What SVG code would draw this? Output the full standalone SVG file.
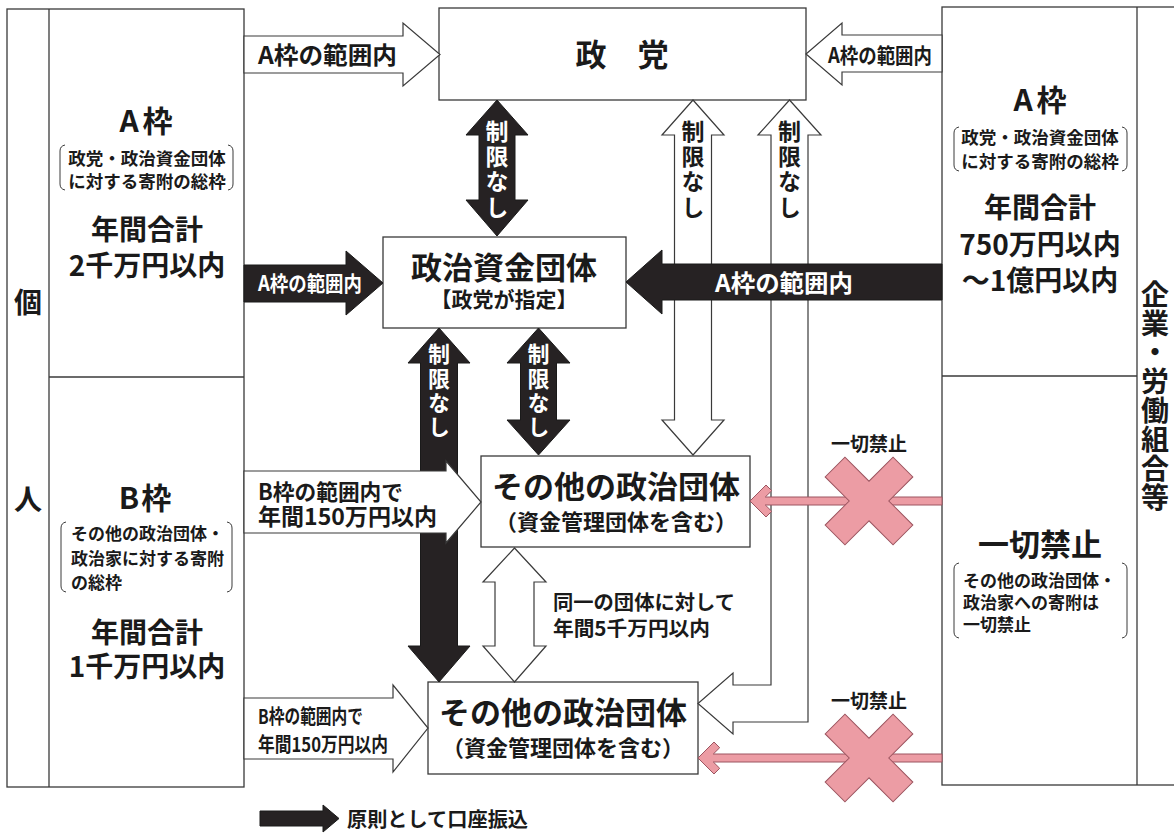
<svg xmlns="http://www.w3.org/2000/svg" width="1174" height="833" viewBox="0 0 1174 833">
<defs>
<style>
text{font-family:"Noto Sans CJK JP","Noto Sans CJK SC",sans-serif;fill:#1a1a1a}
.box{fill:#fff;stroke:#3a3a3a;stroke-width:1.3}
.ln{fill:none;stroke:#3a3a3a;stroke-width:1.3}
.br{fill:none;stroke:#3a3a3a;stroke-width:1}
.b{font-weight:bold}
.m{text-anchor:middle}
.v{writing-mode:vertical-rl}
.blk{fill:#262223;stroke:#1a1a1a;stroke-width:1}
.hol{fill:#fff;stroke:#3a3a3a;stroke-width:1.2}
.pk{fill:#ec9ca4;stroke:#9c5560;stroke-width:1}
.w{fill:#fff}
</style>
</defs>
<rect width="1174" height="833" fill="#fff"/>

<g id="kojin">
<rect class="box" x="7" y="9" width="237" height="778"/>
<line class="ln" x1="49" y1="9" x2="49" y2="787"/>
<line class="ln" x1="49" y1="377" x2="244" y2="377"/>
<text class="b m" x="28" y="313" font-size="28">個</text>
<text class="b m" x="28" y="510" font-size="28">人</text>
</g>

<g id="kojin-a">
<text class="b m" x="148" y="132" font-size="30" letter-spacing="4">A枠</text>
<path class="br" d="M65,145 Q60,146 60,151 L60,184 Q60,189 65,190"/>
<path class="br" d="M228,145 Q233,146 233,151 L233,184 Q233,189 228,190"/>
<text class="b m" font-size="17.5"><tspan x="147" y="165">政党・政治資金団体</tspan><tspan x="147" y="188">に対する寄附の総枠</tspan></text>
<text class="b m" font-size="28"><tspan x="147" y="240">年間合計</tspan><tspan x="147" y="276">2千万円以内</tspan></text>
</g>

<g id="kojin-b">
<text class="b m" x="146" y="509" font-size="30" letter-spacing="2">B枠</text>
<path class="br" d="M66,522 Q61,523 61,528 L61,586 Q61,591 66,592"/>
<path class="br" d="M227,522 Q232,523 232,528 L232,586 Q232,591 227,592"/>
<text class="b" font-size="17"><tspan x="71" y="540">その他の政治団体・</tspan><tspan x="71" y="565">政治家に対する寄附</tspan><tspan x="71" y="589">の総枠</tspan></text>
<text class="b m" font-size="28"><tspan x="147" y="643">年間合計</tspan><tspan x="147" y="677">1千万円以内</tspan></text>
</g>

<g id="kigyo">
<rect class="box" x="942" y="7" width="250" height="778"/>
<line class="ln" x1="1137" y1="7" x2="1137" y2="785"/>
<line class="ln" x1="942" y1="376" x2="1137" y2="376"/>
<text class="b v" x="1155" y="280" font-size="28" letter-spacing="1">企業・労働組合等</text>
</g>

<g id="kigyo-a">
<text class="b m" x="1042" y="111" font-size="30" letter-spacing="4">A枠</text>
<path class="br" d="M959,127 Q954,128 954,133 L954,165 Q954,170 959,171"/>
<path class="br" d="M1122,127 Q1127,128 1127,133 L1127,165 Q1127,170 1122,171"/>
<text class="b m" font-size="17.5"><tspan x="1040" y="144">政党・政治資金団体</tspan><tspan x="1040" y="168">に対する寄附の総枠</tspan></text>
<text class="b m" font-size="28"><tspan x="1040" y="218">年間合計</tspan><tspan x="1040" y="255">750万円以内</tspan><tspan x="1040" y="291">～1億円以内</tspan></text>
</g>

<g id="kigyo-b">
<text class="b m" x="1040" y="556" font-size="31">一切禁止</text>
<path class="br" d="M959,563 Q954,564 954,569 L954,632 Q954,637 959,638"/>
<path class="br" d="M1122,563 Q1127,564 1127,569 L1127,632 Q1127,637 1122,638"/>
<text class="b" font-size="17"><tspan x="963" y="587">その他の政治団体・</tspan><tspan x="963" y="609">政治家への寄附は</tspan><tspan x="963" y="631">一切禁止</tspan></text>
</g>

<g id="seito">
<rect class="box" x="439" y="8" width="367" height="92"/>
<text class="b m" x="622" y="66" font-size="31">政　党</text>
</g>

<g id="shikin-dantai">
<rect class="box" x="383" y="237" width="243" height="91"/>
<text class="b m" x="504" y="279" font-size="31">政治資金団体</text>
<text class="b m" x="504" y="307" font-size="21">【政党が指定】</text>
</g>

<g id="sonota-1">
<rect class="box" x="481" y="456" width="269" height="91"/>
<text class="b m" x="616" y="498" font-size="31">その他の政治団体</text>
<text class="b m" x="616" y="530" font-size="22">（資金管理団体を含む）</text>
</g>

<g id="sonota-2">
<rect class="box" x="428" y="682" width="270" height="92"/>
<text class="b m" x="563" y="724" font-size="31">その他の政治団体</text>
<text class="b m" x="563" y="756" font-size="22">（資金管理団体を含む）</text>
</g>

<g id="connectors">
<!-- hollow arrows -->
<polygon class="hol" points="244,36 403,36 403,23 440,54.5 403,86 403,73 244,73"/>
<text class="b" x="258" y="63.6" font-size="24" textLength="139" lengthAdjust="spacingAndGlyphs">A枠の範囲内</text>
<polygon class="hol" points="942,35 842,35 842,23 806,54 842,85 842,72 942,72"/>
<text class="b" x="828" y="62.6" font-size="21" textLength="104" lengthAdjust="spacingAndGlyphs">A枠の範囲内</text>

<polygon class="hol" points="693,100 724,135 711.5,135 711.5,420 724,420 693,455 662,420 674.5,420 674.5,135 662,135"/>
<text class="b v" x="693" y="119.5" font-size="23" letter-spacing="2.3">制限なし</text>

<polygon class="hol" points="789.5,100 821,135 808,135 808,722 733,722 733,734 698,703.5 733,673 733,685 771,685 771,135 758,135"/>
<text class="b v" x="789.5" y="119.5" font-size="23" letter-spacing="2.3">制限なし</text>

<polygon class="hol" points="514.5,548 546,582 534,582 534,646 546,646 514.5,682 483,646 495,646 495,582 483,582"/>
<text class="b" font-size="20"><tspan x="553" y="610" textLength="182" lengthAdjust="spacingAndGlyphs">同一の団体に対して</tspan><tspan x="553" y="636" textLength="157" lengthAdjust="spacingAndGlyphs">年間5千万円以内</tspan></text>

<!-- black arrows -->
<polygon class="blk" points="497,100 528,135 515,135 515,200 528,200 497,236 466,200 479,200 479,135 466,135"/>
<text class="b v w" x="497" y="119.5" font-size="23" letter-spacing="2.3">制限なし</text>

<polygon class="blk" points="244,265 346,265 346,251 383,283 346,315 346,302 244,302"/>
<text class="b w" x="258" y="290.6" font-size="21" textLength="104" lengthAdjust="spacingAndGlyphs">A枠の範囲内</text>

<polygon class="blk" points="942,264 662,264 662,250 626,282 662,314 662,300 942,300"/>
<text class="b w" x="715" y="292" font-size="24" textLength="138" lengthAdjust="spacingAndGlyphs">A枠の範囲内</text>

<polygon class="blk" points="538.5,328 570,363 556.5,363 556.5,420 570,420 538.5,455 507,420 520.5,420 520.5,363 507,363"/>
<text class="b v w" x="538.5" y="343" font-size="22" letter-spacing="2.2">制限なし</text>

<polygon class="blk" points="439,328 470,363 457.5,363 457.5,646 470,646 439,682 408,646 420.5,646 420.5,363 408,363"/>
<text class="b v w" x="439" y="343" font-size="22" letter-spacing="2.2">制限なし</text>

<!-- B arrows (over black) -->
<polygon class="hol" points="244,471 446,471 446,461 481,502 446,543 446,533 244,533"/>
<text class="b"><tspan x="258" y="500" font-size="22" textLength="145" lengthAdjust="spacingAndGlyphs">B枠の範囲内で</tspan><tspan x="258" y="525" font-size="23" textLength="179" lengthAdjust="spacingAndGlyphs">年間150万円以内</tspan></text>

<polygon class="hol" points="244,698 393,698 393,685 428,728 393,772 393,759 244,759"/>
<text class="b" font-size="20"><tspan x="258" y="724" textLength="105" lengthAdjust="spacingAndGlyphs">B枠の範囲内で</tspan><tspan x="258" y="752" textLength="130" lengthAdjust="spacingAndGlyphs">年間150万円以内</tspan></text>

<!-- prohibited (pink) -->
<polygon class="pk" points="750,501 766,485 771.7,490.7 765.3,497 942,497 942,505 765.3,505 771.7,511.3 766,517"/>
<polygon class="pk" transform="translate(869,501) rotate(45)" points="14,14 14,48 -14,48 -14,14 -48,14 -48,-14 -14,-14 -14,-48 14,-48 14,-14 48,-14 48,14"/>
<text class="b m" x="869" y="451" font-size="19">一切禁止</text>

<polygon class="pk" points="698,758 714,742 719.7,747.7 713.3,754 942,754 942,762 713.3,762 719.7,768.3 714,774"/>
<polygon class="pk" transform="translate(869,758) rotate(45)" points="14,14 14,48 -14,48 -14,14 -48,14 -48,-14 -14,-14 -14,-48 14,-48 14,-14 48,-14 48,14"/>
<text class="b m" x="869" y="708" font-size="19">一切禁止</text>
</g>

<g id="legend">
<polygon class="blk" points="260,811 323,811 323,805 339,818.5 323,832 323,826 260,826"/>
<text class="b" x="347" y="827" font-size="20" textLength="181" lengthAdjust="spacingAndGlyphs">原則として口座振込</text>
</g>
</svg>
